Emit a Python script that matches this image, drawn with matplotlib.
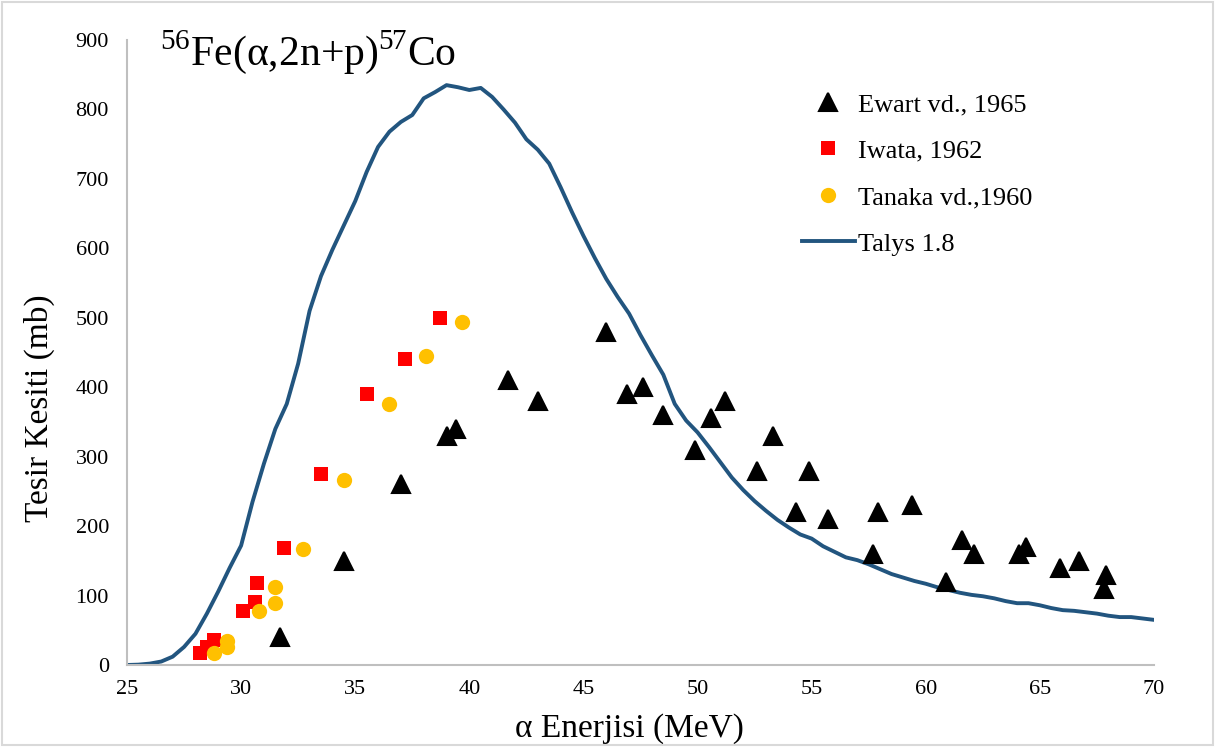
import matplotlib
matplotlib.use("Agg")
import matplotlib.pyplot as plt
from matplotlib.patches import Rectangle

plt.rcParams['font.family'] = ['Liberation Serif', 'DejaVu Serif']
plt.rcParams['mathtext.fontset'] = 'custom'
plt.rcParams['mathtext.rm'] = 'Liberation Serif'

# Ewart vd., 1965
ewart_e = [31.7, 34.5, 37.0, 39.0, 39.4, 41.7, 43.0, 46.0, 46.9, 47.6, 48.5, 49.9,
           50.6, 51.2, 52.6, 53.3, 54.3, 54.9, 55.7, 57.7, 57.9, 59.4, 60.9, 61.6,
           62.1, 64.1, 64.4, 65.9, 66.7, 67.9, 67.8]
ewart_s = [40, 150, 260, 330, 340, 410, 380, 480, 390, 400, 360, 310,
           355, 380, 280, 330, 220, 280, 210, 160, 220, 230, 120, 180,
           160, 160, 170, 140, 150, 130, 110]

# Iwata, 1962
iwata_e = [28.2, 28.5, 28.8, 30.1, 30.6, 30.7, 31.9, 33.5, 35.5, 37.2, 38.7]
iwata_s = [18, 26, 36, 78, 91, 118, 168, 275, 390, 441, 500]

# Tanaka vd., 1960
tanaka_e = [28.8, 29.4, 29.4, 30.8, 31.5, 31.5, 32.7, 34.5, 36.5, 38.1, 39.7]
tanaka_s = [18, 35, 26, 78, 89, 112, 167, 267, 376, 445, 494]

# Talys 1.8
talys_e = [25.0, 25.5, 26.0, 26.5, 27.0, 27.5, 28.0, 28.5, 29.0, 29.5, 30.0, 30.5,
           31.0, 31.5, 32.0, 32.5, 33.0, 33.5, 34.0, 34.5, 35.0, 35.5, 36.0, 36.5,
           37.0, 37.5, 38.0, 38.5, 39.0, 39.5, 40.0, 40.5, 41.0, 41.5, 42.0, 42.5,
           43.0, 43.5, 44.0, 44.5, 45.0, 45.5, 46.0, 46.5, 47.0, 47.5, 48.0, 48.5,
           49.0, 49.5, 50.0, 50.5, 51.0, 51.5, 52.0, 52.5, 53.0, 53.5, 54.0, 54.5,
           55.0, 55.5, 56.0, 56.5, 57.0, 57.5, 58.0, 58.5, 59.0, 59.5, 60.0, 60.5,
           61.0, 61.5, 62.0, 62.5, 63.0, 63.5, 64.0, 64.5, 65.0, 65.5, 66.0, 66.5,
           67.0, 67.5, 68.0, 68.5, 69.0, 69.5, 70.0]
talys_s = [0, 0.5, 2, 5, 12, 26, 45, 74, 106, 140, 172, 235,
           290, 340, 376, 434, 510, 560, 598, 633, 668, 710, 746, 768,
           782, 792, 816, 825, 835, 832, 828, 831, 818, 800, 781, 757,
           742, 722, 688, 652, 618, 586, 556, 530, 506, 475, 446, 418,
           376, 352, 335, 314, 292, 270, 252, 236, 222, 209, 198, 188,
           182, 171, 163, 155, 151, 145, 138, 131, 126, 121, 117, 112,
           108, 104, 101, 99, 96, 92, 89, 89, 86, 82, 79, 78,
           76, 74, 71, 69, 69, 67, 65]

fig = plt.figure(figsize=(12.15, 7.47), dpi=100)
ax = fig.add_axes([127/1215, 1-665/747, 1027/1215, 625/747])

ax.plot(ewart_e, ewart_s, linestyle='none', marker='^', markersize=12.5,
        color='black', markeredgecolor='black', markeredgewidth=1.5,
        label='Ewart vd., 1965', zorder=3)
ax.plot(iwata_e, iwata_s, linestyle='none', marker='s', markersize=10.5,
        color='#FF0000', markeredgewidth=0, label='Iwata, 1962', zorder=3)
ax.plot(tanaka_e, tanaka_s, linestyle='none', marker='o', markersize=11,
        color='#FFC000', markeredgewidth=0, label='Tanaka vd.,1960', zorder=4)
ax.plot(talys_e, talys_s, color='#22557F', linewidth=2.8, label='Talys 1.8', zorder=2)

ax.set_xlim(25, 70)
ax.set_ylim(0, 900)
ax.set_xticks(range(25, 71, 5))
ax.set_yticks(range(0, 901, 100))
ax.tick_params(length=0, labelsize=16)
ax.tick_params(axis='y', pad=13)
ax.tick_params(axis='x', pad=11)
for s in ['top', 'right']:
    ax.spines[s].set_visible(False)
for s in ['left', 'bottom']:
    ax.spines[s].set_color('#BFBFBF')
    ax.spines[s].set_linewidth(1.5)

ax.set_xlabel('α Enerjisi (MeV)', fontsize=24)
ax.set_ylabel('Tesir Kesiti (mb)', fontsize=24)
ax.xaxis.set_label_coords(0.489, -0.077)
ax.yaxis.set_label_coords(-0.070, 0.411)

fig.text(160/1215, 1-65/747, r'$^{56}$Fe(α,2n+p)$^{57}$Co', fontsize=30,
         va='baseline', ha='left')

ax.legend(loc='upper left', bbox_to_anchor=(778/1215, 1-69/747),
          bbox_transform=fig.transFigure, frameon=False, fontsize=19,
          handlelength=2.0, labelspacing=0.87, handletextpad=0.15)

fig.patches.append(Rectangle((0.002, 0.003), 0.996, 0.994, transform=fig.transFigure,
                             fill=False, edgecolor='#D9D9D9', linewidth=1.5))

plt.savefig('out.png', dpi=100)
